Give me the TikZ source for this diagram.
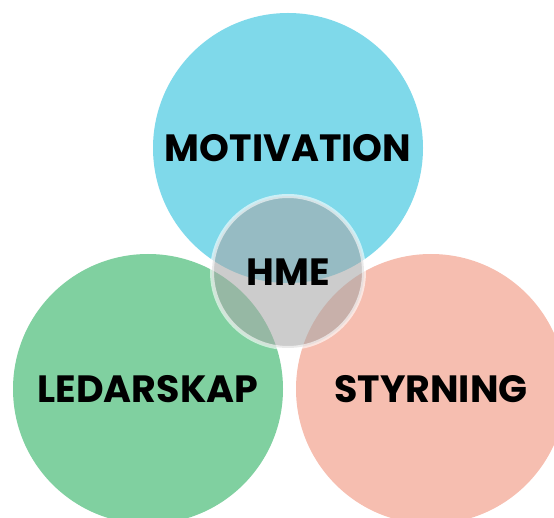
\documentclass[tikz,border=0pt]{standalone}
\usepackage{fontspec}
\setmainfont{Poppins}
\definecolor{motblue}{RGB}{127,217,234}
\definecolor{ledgreen}{RGB}{128,208,160}
\definecolor{styrsalmon}{RGB}{246,190,176}
\definecolor{hmegray}{RGB}{167,167,167}
\tikzset{
  bigcircle/.style={circle, minimum size=270pt, inner sep=0pt,
    font=\fontsize{38}{44}\selectfont\bfseries},
  hmecircle/.style={circle, minimum size=152pt, inner sep=0pt,
    fill=hmegray, fill opacity=0.58, text opacity=1,
    draw=white, draw opacity=0.6, line width=4pt,
    font=\fontsize{38}{44}\selectfont\bfseries}
}
\begin{document}
\begin{tikzpicture}[x=1pt,y=1pt]
%Frame
\useasboundingbox (0,0) rectangle (554,517);

%Big circles
\node[bigcircle, fill=motblue] (motivation) at (288,369) {MOTIVATION};
\node[bigcircle, fill=ledgreen] (ledarskap) at (148,128) {LEDARSKAP};
\node[bigcircle, fill=styrsalmon] (styrning) at (431,128) {STYRNING};

%Centre
\node[hmecircle] (hme) at (288,245) {HME};
\end{tikzpicture}
\end{document}
